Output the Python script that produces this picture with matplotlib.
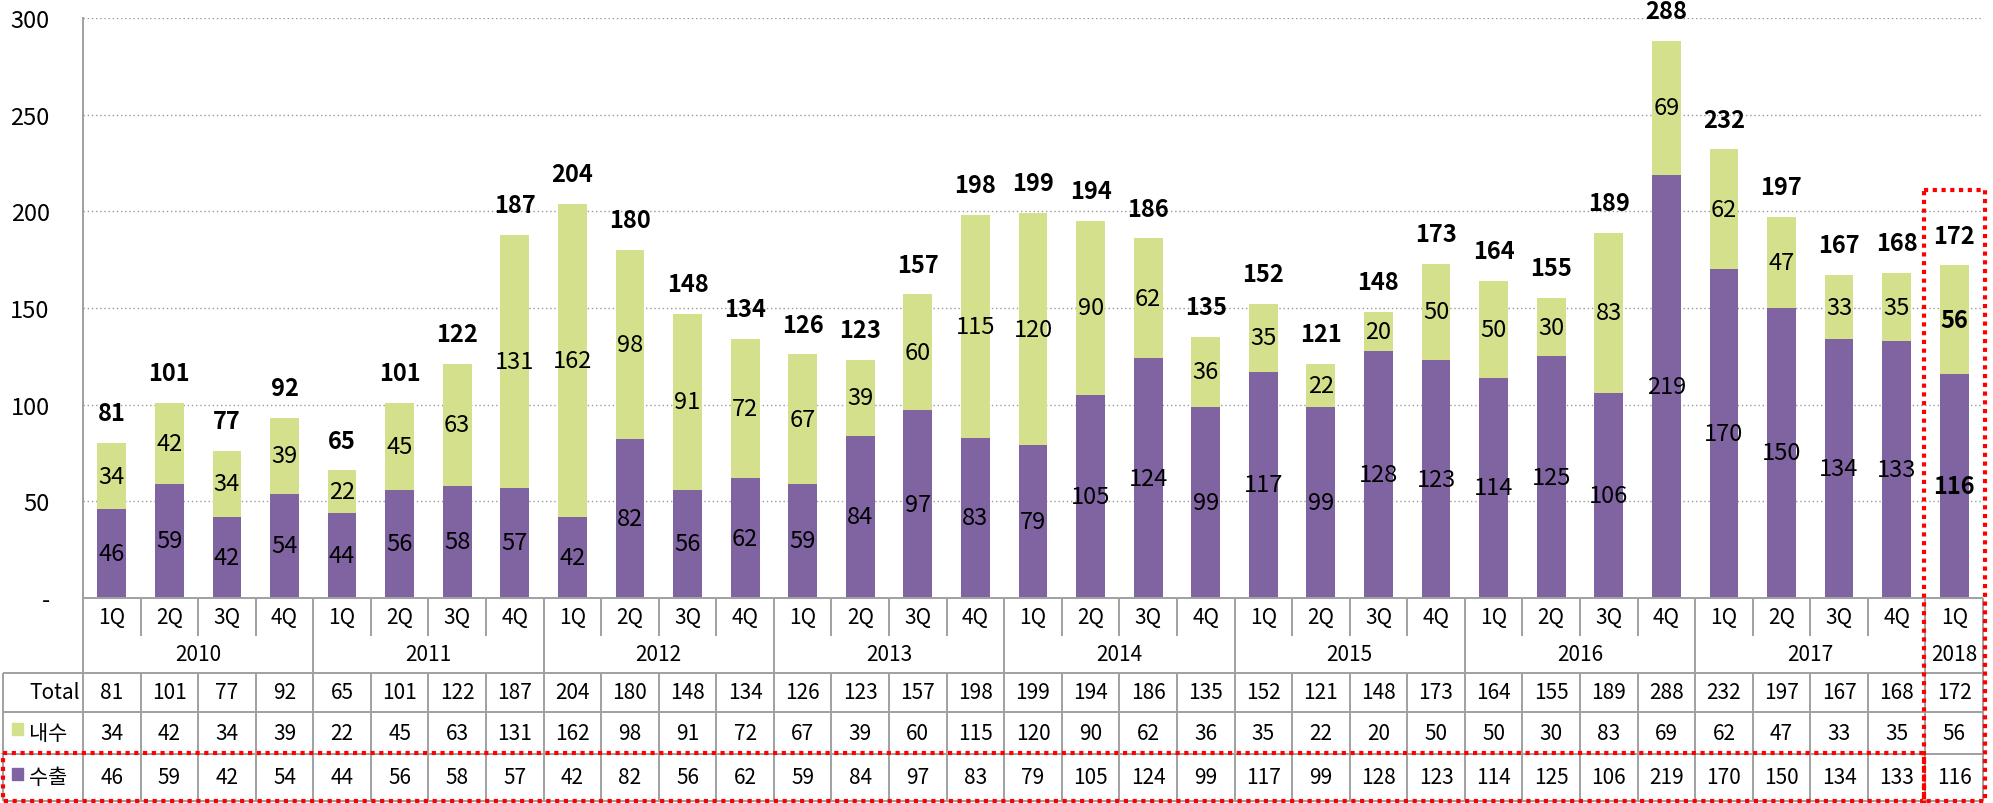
import matplotlib
matplotlib.use("Agg")
import matplotlib.pyplot as plt
import numpy as np
from matplotlib.patches import Rectangle

plt.rcParams['font.family'] = ['Noto Sans CJK KR', 'DejaVu Sans']

# ---- data ----
years = ['2010', '2011', '2012', '2013', '2014', '2015', '2016', '2017', '2018']
year_counts = [4, 4, 4, 4, 4, 4, 4, 4, 1]
quarters = ['1Q', '2Q', '3Q', '4Q'] * 8 + ['1Q']
total = [81, 101, 77, 92, 65, 101, 122, 187, 204, 180, 148, 134, 126, 123, 157, 198,
         199, 194, 186, 135, 152, 121, 148, 173, 164, 155, 189, 288, 232, 197, 167, 168, 172]
domestic = [34, 42, 34, 39, 22, 45, 63, 131, 162, 98, 91, 72, 67, 39, 60, 115,
            120, 90, 62, 36, 35, 22, 20, 50, 50, 30, 83, 69, 62, 47, 33, 35, 56]
export = [46, 59, 42, 54, 44, 56, 58, 57, 42, 82, 56, 62, 59, 84, 97, 83,
          79, 105, 124, 99, 117, 99, 128, 123, 114, 125, 106, 219, 170, 150, 134, 133, 116]
y_ticks = [0, 50, 100, 150, 200, 250, 300]
y_tick_labels = ['-', '50', '100', '150', '200', '250', '300']
row_names = ['Total', '내수', '수출']

purple = '#8064A2'
green = '#D4E08B'
gray = '#A0A0A0'

W, H = 1993, 804
fig = plt.figure(figsize=(W / 100, H / 100), dpi=100)

# layout in pixels
ax_left, ax_right, ax_top, ax_bottom = 83, 1983, 19, 599
ax = fig.add_axes([ax_left / W, 1 - ax_bottom / H,
                   (ax_right - ax_left) / W, (ax_bottom - ax_top) / H])

n = len(total)
x = np.arange(n)
ax.bar(x, export, 0.5, color=purple, zorder=2)
ax.bar(x, domestic, 0.5, bottom=export, color=green, zorder=2)

for i in range(n):
    w = 'bold' if i == n - 1 else 'normal'
    ax.text(i, export[i] / 2, str(export[i]), ha='center', va='center',
            fontsize=17, fontweight=w, zorder=3)
    ax.text(i, export[i] + domestic[i] / 2, str(domestic[i]), ha='center', va='center',
            fontsize=17, fontweight=w, zorder=3)
    ax.annotate(str(total[i]), (i, export[i] + domestic[i]), xytext=(0, 21.5),
                textcoords='offset points', ha='center', va='center',
                fontsize=17, fontweight='bold', annotation_clip=False)

ax.set_xlim(-0.5, n - 0.5)
ax.set_ylim(0, 300)
ax.set_yticks(y_ticks)
ax.set_yticklabels(y_tick_labels)
ax.set_xticks([])
ax.tick_params(axis='y', length=0, pad=24, labelsize=17)
ax.yaxis.grid(True, linestyle=(0, (1, 2)), color='#999999', lw=1)
ax.set_axisbelow(True)
for s in ['top', 'right', 'bottom']:
    ax.spines[s].set_visible(False)
ax.spines['left'].set_color(gray)
ax.spines['left'].set_linewidth(1.4)

# ---- data table below the chart (y in pixels from top) ----
tx = fig.add_axes([0, 0, 1, (H - ax_bottom) / H])
u = (ax_right - ax_left) / n
tx.set_xlim(-0.5 - ax_left / u, -0.5 + (W - ax_left) / u)
tx.set_ylim(H, ax_bottom)
tx.axis('off')

rows_y = [599, 637, 674, 713, 755, 802]
xl = -0.5 - (ax_left - 3) / u
xr = n - 0.5
lk = dict(color=gray, lw=1.4, solid_capstyle='butt', clip_on=False)

tx.plot([-0.5, xr], [rows_y[0]] * 2, **lk)
for yy in rows_y[2:]:
    tx.plot([xl, xr], [yy] * 2, **lk)
tx.plot([xl, xl], [rows_y[2], rows_y[-1]], **lk)
bounds = np.cumsum([0] + year_counts)
for k in range(n + 1):
    xb = k - 0.5
    y_end = rows_y[2] if k in bounds else rows_y[1]
    tx.plot([xb, xb], [rows_y[0], y_end], **lk)
    tx.plot([xb, xb], [rows_y[2], rows_y[-1]], **lk)

mid = lambda a, b: (a + b) / 2
for i in range(n):
    tx.text(i, mid(rows_y[0], rows_y[1]), quarters[i], ha='center', va='center', fontsize=15)
    for r, vals in enumerate([total, domestic, export]):
        tx.text(i, mid(rows_y[r + 2], rows_y[r + 3]), str(vals[i]),
                ha='center', va='center', fontsize=15)
for j, yr in enumerate(years):
    c = (bounds[j] + bounds[j + 1] - 1) / 2
    tx.text(c, mid(rows_y[1], rows_y[2]), yr, ha='center', va='center', fontsize=15)

x_lab = -0.5 - (ax_left - 29) / u
for r, name in enumerate(row_names):
    yc = mid(rows_y[r + 2], rows_y[r + 3])
    tx.text(x_lab, yc, name, ha='left', va='center', fontsize=15)
    if r > 0:
        col = green if r == 1 else purple
        tx.add_patch(Rectangle((-0.5 - (ax_left - 12) / u, yc - 10), 11 / u, 12,
                               color=col, clip_on=False))

# red dotted highlight boxes
rk = dict(fill=False, edgecolor='#FF0000', lw=3, linestyle=(0, (1, 1.1)), clip_on=False, zorder=5)
tx.add_patch(Rectangle((n - 1.53, 191), 1.06, 611, **rk))
tx.add_patch(Rectangle((xl, 754), (n - 1.53) - xl, 48, **rk))

fig.savefig('out.png', dpi=100)
